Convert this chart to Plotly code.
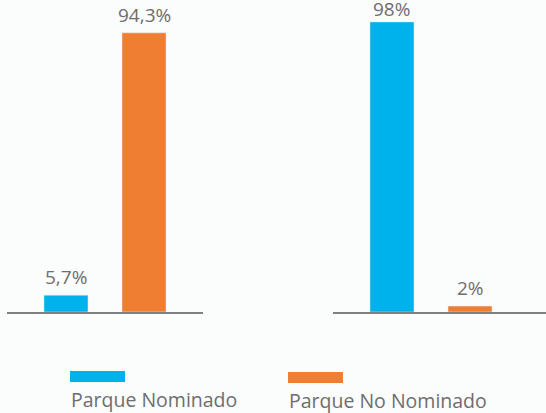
import plotly.graph_objects as go
from plotly.subplots import make_subplots

# data
groups = ["Grupo 1", "Grupo 2"]
series_names = ["Parque Nominado", "Parque No Nominado"]
nominado = [5.7, 98]
no_nominado = [94.3, 2]
nominado_labels = ["5,7%", "98%"]
no_nominado_labels = ["94,3%", "2%"]

BLUE = "#00B2EB"
ORANGE = "#EF7D32"
GRAY_TEXT = "#6E6E6E"
BG = "#FBFCFC"
FONT = "Open Sans"

W, H = 546, 413
BASE = 312  # page y of the baseline
PLOT_H = BASE


def px_x(px):
    return px / W


def px_y(py):
    return (BASE - py) / PLOT_H


fig = make_subplots(rows=1, cols=2)

for i in range(len(groups)):
    col = i + 1
    vals = [nominado[i], no_nominado[i]]
    labels = [nominado_labels[i], no_nominado_labels[i]]
    fig.add_trace(go.Bar(
        x=[0, 1],
        y=vals,
        marker_color=[BLUE, ORANGE],
        width=0.564,
        showlegend=False,
        hoverinfo="skip",
    ), row=1, col=col)
    xref = "x" if col == 1 else "x2"
    yref = "y" if col == 1 else "y2"
    for xpos, (v, lab) in enumerate(zip(vals, labels)):
        # the tallest bar's label sits a little closer so it stays on the page
        fig.add_annotation(
            x=xpos, y=v, xref=xref, yref=yref, text=lab,
            showarrow=False, yanchor="middle", yshift=13 if v > 95 else 18,
            font=dict(size=19, color=GRAY_TEXT, family=FONT),
        )

axis_common = dict(
    showgrid=False, zeroline=False, showticklabels=False, ticks="",
    showline=True, linecolor="#7F7F7F", linewidth=2,
)
fig.update_xaxes(**axis_common)
fig.update_xaxes(domain=[px_x(7), px_x(203)], range=[-0.756, 1.756], row=1, col=1)
fig.update_xaxes(domain=[px_x(333), 1.0], range=[-0.756, 1.974], row=1, col=2)
fig.update_yaxes(showgrid=False, zeroline=False, showticklabels=False,
                 showline=False, range=[0, PLOT_H / 2.96])

# manual legend: swatch above label
legend_items = [
    (series_names[0], BLUE, 70, 371, 400),
    (series_names[1], ORANGE, 288, 372, 401),
]
for name, color, x0, y0, ty in legend_items:
    fig.add_shape(type="rect", xref="paper", yref="paper",
                  x0=px_x(x0), x1=px_x(x0 + 55),
                  y0=px_y(y0 + 11), y1=px_y(y0),
                  fillcolor=color, line_width=0)
    fig.add_annotation(text=name, xref="paper", yref="paper",
                       x=px_x(x0 - 1), y=px_y(ty),
                       xanchor="left", yanchor="middle", showarrow=False,
                       font=dict(size=19.5, color=GRAY_TEXT, family=FONT))

fig.update_layout(
    width=W, height=H,
    margin=dict(l=0, r=0, t=0, b=H - PLOT_H),
    paper_bgcolor=BG, plot_bgcolor=BG,
    showlegend=False,
)

# drop the default body margin so the figure fills the window
fig.write_html("out.html", config={"displayModeBar": False},
               post_script="document.body.style.margin='0px';")
